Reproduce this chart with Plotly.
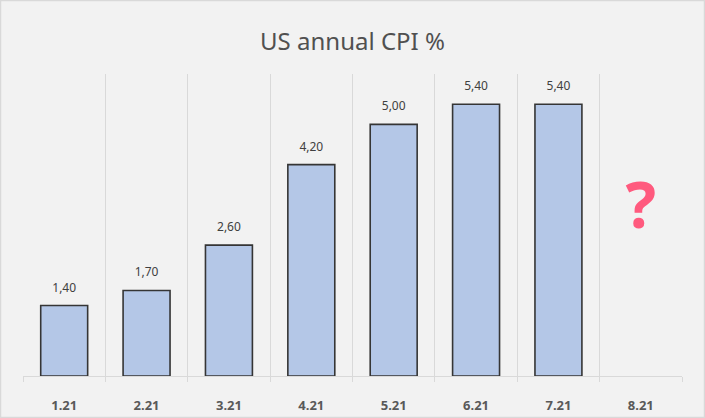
import plotly.graph_objects as go

categories = ["1.21", "2.21", "3.21", "4.21", "5.21", "6.21", "7.21", "8.21"]
cpi_values = [1.40, 1.70, 2.60, 4.20, 5.00, 5.40, 5.40, None]
unknown_category = ["8.21"]
unknown_position = [3.25]
unknown_label = ["<b>?</b>"]
title_text = "US annual CPI %"

labels = [("" if v is None else f"{v:.2f}".replace(".", ",")) for v in cpi_values]

fig = go.Figure()
fig.add_trace(go.Bar(
    x=categories, y=cpi_values,
    marker=dict(color="#b4c7e7", line=dict(color="#353535", width=1.6)),
    width=0.57, hoverinfo="skip",
))
fig.add_trace(go.Scatter(
    x=categories, y=cpi_values, mode="markers+text", text=labels, textposition="top center",
    marker=dict(size=16, color="rgba(0,0,0,0)"),
    textfont=dict(family="Noto Sans", size=12, color="#404040"), hoverinfo="skip",
    cliponaxis=False,
))
fig.add_trace(go.Scatter(
    x=unknown_category, y=unknown_position, mode="text", text=unknown_label,
    textfont=dict(family="Noto Sans", size=64, color="#ff5a7e"), hoverinfo="skip",
))

W, H = 705, 418
ml, mr, mt, mb = 23, 23, 74, 42
pw, ph = W - ml - mr, H - mt - mb
fig.add_shape(type="rect", xref="paper", yref="paper",
              x0=(0.5 - ml) / pw, x1=(W - 0.5 - ml) / pw,
              y0=-(mb - 0.5) / ph, y1=(H - 0.5 - mb) / ph,
              line=dict(color="#d9d9d9", width=1.5), layer="below")

fig.update_layout(
    width=W, height=H,
    margin=dict(l=ml, r=mr, t=mt, b=mb, autoexpand=False),
    paper_bgcolor="#f2f2f2", plot_bgcolor="#f2f2f2",
    showlegend=False,
    title=dict(text=title_text, x=0.5, xanchor="center", y=1 - 42 / H, yanchor="middle",
               font=dict(family="Noto Sans", size=24, color="#505050")),
    xaxis=dict(type="category", categoryorder="array", categoryarray=categories,
               range=[-0.5, len(categories) - 0.5], automargin=False,
               tickson="boundaries", showgrid=True, gridcolor="#d9d9d9",
               gridwidth=1, showline=True, linecolor="#d9d9d9", linewidth=1,
               ticks="outside", ticklen=5, tickcolor="#d9d9d9",
               tickfont=dict(family="Noto Sans", size=13, color="#595959", weight="bold"),
               ticklabelstandoff=17, fixedrange=True),
    yaxis=dict(range=[0, 6], visible=False, showgrid=False, fixedrange=True, automargin=False),
)

fig.write_html("out.html", config={"displayModeBar": False},
               post_script="document.body.style.margin='0';")
